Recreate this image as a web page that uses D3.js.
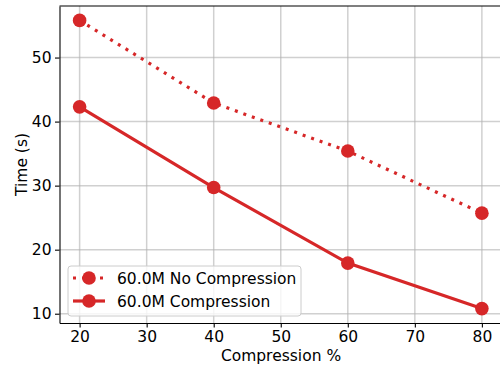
<!DOCTYPE html>
<html lang="en">
<head>
<meta charset="UTF-8">
<title>Compression timing</title>
<script src="https://cdnjs.cloudflare.com/ajax/libs/d3/7.8.5/d3.min.js"></script>
<style>
    body { margin: 0; background: #fff; font-family: 'DejaVu Sans', sans-serif; }
    svg { display: block; }
    .tick text { font-size: 15.5px; fill: #000; font-family: 'DejaVu Sans', sans-serif; }
</style>
</head>
<body>
<div id="chart"></div>
<script>
const compressionPct = [20, 40, 60, 80];
const noCompressionTime = [55.8, 42.9, 35.4, 25.7];
const compressionTime = [42.3, 29.7, 17.9, 10.8];
const xTicks = [20, 30, 40, 50, 60, 70, 80];
const yTicks = [10, 20, 30, 40, 50];
const seriesNames = ["60.0M No Compression", "60.0M Compression"];

const width = 500, height = 370;
const margin = { left: 59.5, right: -2, top: 6, bottom: 47 };
const color = "#d62728";

const svg = d3.select("#chart").append("svg")
    .attr("width", width)
    .attr("height", height);

const x = d3.scaleLinear().domain([17, 83]).range([margin.left, width - margin.right]);
const y = d3.scaleLinear().domain([8.55, 58.05]).range([height - margin.bottom, margin.top]);

// grid
const grid = svg.append("g");
grid.selectAll("line.vx").data(xTicks).enter().append("line")
    .attr("x1", d => x(d)).attr("x2", d => x(d))
    .attr("y1", y.range()[0]).attr("y2", y.range()[1])
    .attr("stroke", "#b0b0b0").attr("stroke-opacity", 0.6).attr("stroke-width", 1.5);
grid.selectAll("line.hy").data(yTicks).enter().append("line")
    .attr("y1", d => y(d)).attr("y2", d => y(d))
    .attr("x1", x.range()[0]).attr("x2", x.range()[1])
    .attr("stroke", "#b0b0b0").attr("stroke-opacity", 0.6).attr("stroke-width", 1.5);

// axes
const xAxis = svg.append("g")
    .attr("transform", `translate(0,${y.range()[0]})`)
    .call(d3.axisBottom(x).tickValues(xTicks).tickSizeInner(4.5).tickSizeOuter(0).tickPadding(3.5).tickFormat(d3.format("d")));
const yAxis = svg.append("g")
    .attr("transform", `translate(${x.range()[0]},0)`)
    .call(d3.axisLeft(y).tickValues(yTicks).tickSizeInner(4.5).tickSizeOuter(0).tickPadding(3.5).tickFormat(d3.format("d")));
[xAxis, yAxis].forEach(a => {
    a.select(".domain").attr("stroke", "#000").attr("stroke-width", 1.1);
    a.selectAll(".tick line").attr("stroke", "#000").attr("stroke-width", 1.1);
});

// frame top/right
svg.append("line").attr("x1", x.range()[0]).attr("x2", x.range()[1])
    .attr("y1", y.range()[1]).attr("y2", y.range()[1]).attr("stroke", "#000").attr("stroke-width", 1.1);
svg.append("line").attr("x1", x.range()[1]).attr("x2", x.range()[1])
    .attr("y1", y.range()[0]).attr("y2", y.range()[1]).attr("stroke", "#000").attr("stroke-width", 1.1);

// labels
svg.append("text")
    .attr("x", 281).attr("y", 361)
    .attr("text-anchor", "middle").attr("font-size", 15.5)
    .text("Compression %");
svg.append("text")
    .attr("transform", `translate(27,${(y.range()[0] + y.range()[1]) / 2}) rotate(-90)`)
    .attr("text-anchor", "middle").attr("font-size", 15.5)
    .text("Time (s)");

const line = d3.line().x(d => x(d[0])).y(d => y(d[1]));
const series = [
    { name: seriesNames[0], values: d3.zip(compressionPct, noCompressionTime), dash: "3,6" },
    { name: seriesNames[1], values: d3.zip(compressionPct, compressionTime), dash: null }
];

series.forEach(s => {
    svg.append("path")
        .datum(s.values)
        .attr("d", line)
        .attr("fill", "none")
        .attr("stroke", color)
        .attr("stroke-width", 3.2)
        .attr("stroke-dasharray", s.dash);
    svg.selectAll(null).data(s.values).enter().append("circle")
        .attr("cx", d => x(d[0])).attr("cy", d => y(d[1]))
        .attr("r", 6.8).attr("fill", color);
});

// legend
const legend = svg.append("g").attr("transform", "translate(68,266)");
legend.append("rect")
    .attr("width", 233).attr("height", 50).attr("rx", 3)
    .attr("fill", "#fff").attr("fill-opacity", 0.8)
    .attr("stroke", "#ccc").attr("stroke-width", 1);
series.forEach((s, i) => {
    const ly = 12 + i * 23;
    legend.append("line")
        .attr("x1", 5).attr("x2", 37).attr("y1", ly).attr("y2", ly)
        .attr("stroke", color).attr("stroke-width", 3.2)
        .attr("stroke-dasharray", s.dash);
    legend.append("circle").attr("cx", 21).attr("cy", ly).attr("r", 6.8).attr("fill", color);
    legend.append("text")
        .attr("x", 49).attr("y", ly + 5.5).attr("font-size", 15.5)
        .text(s.name);
});
</script>
</body>
</html>
